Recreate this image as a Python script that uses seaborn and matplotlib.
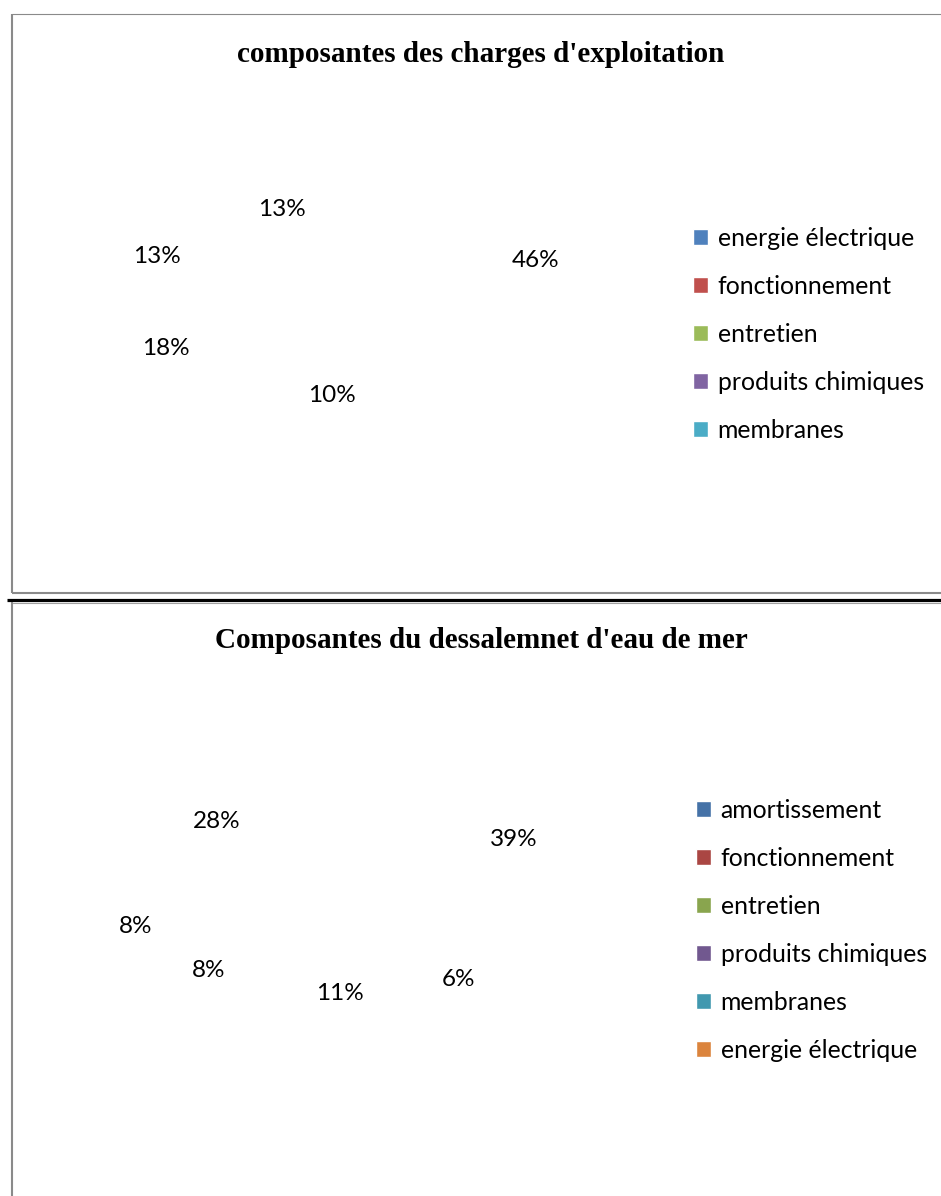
import numpy as np
import matplotlib
matplotlib.use("Agg")
import matplotlib.pyplot as plt
import seaborn as sns
from matplotlib.lines import Line2D

# ---------------- data ----------------
top_title = "composantes des charges d'exploitation"
top_categories = ["energie électrique", "fonctionnement", "entretien",
                  "produits chimiques", "membranes"]
top_values = [46, 10, 18, 13, 13]
top_colors = ["#4F81BD", "#C0504D", "#9BBB59", "#8064A2", "#4BACC6"]

bot_title = "Composantes du dessalemnet d'eau de mer"
bot_categories = ["amortissement", "fonctionnement", "entretien",
                  "produits chimiques", "membranes", "energie électrique"]
bot_values = [39, 6, 11, 8, 8, 28]
bot_colors = ["#4572A7", "#AA4643", "#89A54E", "#71588F", "#4198AF", "#DB843D"]

# label placement style (distance from centre in 100 px units, angular shift in deg)
top_label_r = [2.18, 1.04, 1.64, 1.67, 0.91]
top_label_shift = [-1.0, -10.3, 15.7, -7.7, -1.2]
bot_label_r = [1.89, 1.61, 1.12, 1.50, 1.99, 1.29]
bot_label_shift = [6.9, -24.0, -6.9, 17.7, 12.2, -11.5]

# ---------------- figure ----------------
sns.set_theme(style="white")
plt.rcParams["font.family"] = ["Lato", "DejaVu Sans"]
plt.rcParams["text.color"] = "black"

W, H = 941, 1196
fig = plt.figure(figsize=(W / 100, H / 100), dpi=100)
fig.patch.set_facecolor("white")


def fx(x):
    return x / W


def fy(y):
    return 1 - y / H


def hline(x0, x1, y, color, lw):
    fig.add_artist(Line2D([fx(x0), fx(x1)], [fy(y), fy(y)], transform=fig.transFigure,
                          color=color, lw=lw, solid_capstyle="butt"))


def vline(x, y0, y1, color, lw):
    fig.add_artist(Line2D([fx(x), fx(x)], [fy(y0), fy(y1)], transform=fig.transFigure,
                          color=color, lw=lw, solid_capstyle="butt"))


LABEL_FS = 17.5
LEGEND_FS = 17.8


def add_pie(cx, cy, values, cats, colors, lab_r, lab_shift, leg_xy, title, title_y):
    half = 200
    ax = fig.add_axes([fx(cx - half), fy(cy + half), 2 * half / W, 2 * half / H])
    wedges, texts, autotexts = ax.pie(
        values, colors=colors, startangle=90, counterclock=False, radius=1.5,
        autopct="%1.0f%%",
        textprops=dict(fontsize=LABEL_FS, color="black", family=["Lato", "DejaVu Sans"]))
    ax.set_xlim(-2, 2)
    ax.set_ylim(-2, 2)
    ax.axis("off")
    ax.legend(wedges, cats, loc="upper left", bbox_to_anchor=(fx(leg_xy[0]), fy(leg_xy[1])),
              bbox_transform=fig.transFigure, frameon=False,
              prop=dict(family=["Lato", "DejaVu Sans"], size=LEGEND_FS),
              labelcolor="black",
              handlelength=0.6, handleheight=0.6, handletextpad=0.4,
              labelspacing=1.01, borderpad=0, borderaxespad=0)
    for w in wedges:
        w.set_visible(False)
    for t, w, r, s in zip(autotexts, wedges, lab_r, lab_shift):
        phi = np.deg2rad((w.theta1 + w.theta2) / 2 - s)
        t.set_position((r * np.cos(phi), r * np.sin(phi)))
        t.set_ha("center")
        t.set_va("center")
    fig.text(fx(481), fy(title_y), title, ha="center", va="center", color="black",
             family="Liberation Serif", fontweight="bold", fontsize=21)


add_pie(320, 292, top_values, top_categories, top_colors, top_label_r, top_label_shift,
        (693, 227), top_title, 54)
add_pie(330, 882, bot_values, bot_categories, bot_colors, bot_label_r, bot_label_shift,
        (696, 799), bot_title, 641)

# panel borders
grey = "#8a8a8a"
vline(12, 14, 593, grey, 1.5)
hline(12, W, 14, grey, 0.8)
hline(12, W, 593, grey, 1.5)
hline(7, W, 600, "black", 2.3)
hline(12, W, 602.5, "#a0a0a0", 0.8)
vline(12, 602, H, grey, 1.5)

fig.savefig("out.png", dpi=100, facecolor="white")
